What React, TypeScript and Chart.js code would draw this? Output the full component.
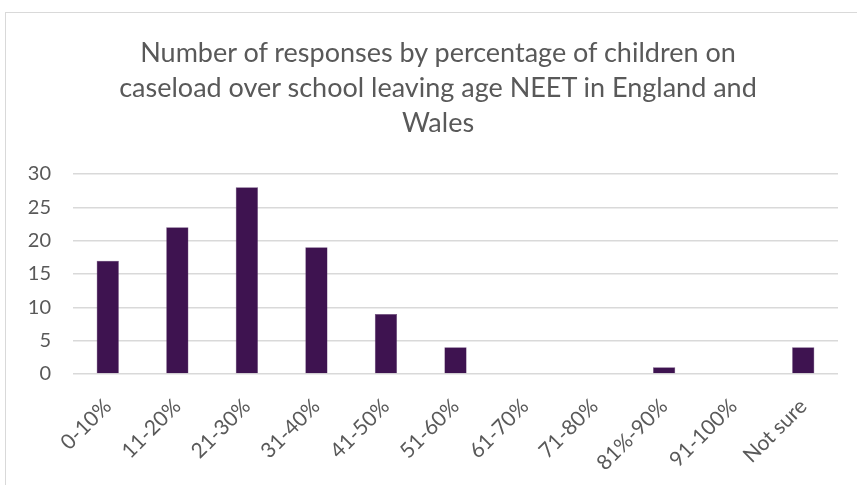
import React, { useEffect, useRef } from "react";
import { Chart, registerables } from "chart.js";

Chart.register(...registerables);

const categories = ["0-10%", "11-20%", "21-30%", "31-40%", "41-50%", "51-60%", "61-70%", "71-80%", "81%-90%", "91-100%", "Not sure"];
const responses = [17, 22, 28, 19, 9, 4, 0, 0, 1, 0, 4];
const titleLines = [
  "Number of responses by percentage of children on",
  "caseload over school leaving age NEET in England and",
  "Wales",
];

const FONT = "Lato, 'Open Sans', sans-serif";

export default function App() {
  const ref = useRef<HTMLCanvasElement>(null);
  useEffect(() => {
    if (!ref.current) return;
    const chart = new Chart(ref.current, {
      type: "bar",
      data: {
        labels: categories,
        datasets: [
          {
            data: responses,
            backgroundColor: "#3e1350",
            borderColor: "#6a4a78",
            borderWidth: 0.5,
            categoryPercentage: 1,
            barPercentage: 0.32,
          },
        ],
      },
      options: {
        animation: false,
        responsive: false,
        maintainAspectRatio: false,
        layout: { padding: { left: 0, right: 19, top: 174, bottom: 0 } },
        plugins: {
          legend: { display: false },
          tooltip: { enabled: false },
          title: { display: false },
        },
        scales: {
          x: {
            grid: { display: false },
            border: { display: false },
            ticks: {
              color: "#595959",
              font: { family: FONT, size: 21 },
              minRotation: 45,
              maxRotation: 45,
              autoSkip: false,
              padding: 12,
            },
            afterFit: (s: any) => {
              s.height = 111;
            },
          },
          y: {
            min: 0,
            max: 30,
            ticks: {
              stepSize: 5,
              color: "#595959",
              font: { family: FONT, size: 20 },
              padding: 22,
            },
            grid: { color: "#d9d9d9", lineWidth: 1.5, drawTicks: false },
            border: { display: false },
            afterFit: (s: any) => {
              s.width = 73;
            },
          },
        },
      },
    });
    return () => chart.destroy();
  }, []);
  return (
    <div style={{ position: "fixed", left: 0, top: 0, width: 857, height: 485, background: "#fff", overflow: "hidden" }}>
      <div
        style={{
          position: "absolute",
          left: 5,
          top: 12,
          width: 900,
          height: 500,
          border: "1.5px solid #d9d9d9",
        }}
      />
      <canvas ref={ref} width={857} height={485} style={{ position: "absolute", left: 0, top: 0 }} />
      <div
        style={{
          position: "absolute",
          left: 0,
          top: 34,
          width: 876,
          textAlign: "center",
          fontFamily: FONT,
          fontSize: 27,
          lineHeight: "35px",
          color: "#595959",
          whiteSpace: "nowrap",
        }}
      >
        {titleLines.map((t, i) => (
          <div key={i}>{t}</div>
        ))}
      </div>
    </div>
  );
}
